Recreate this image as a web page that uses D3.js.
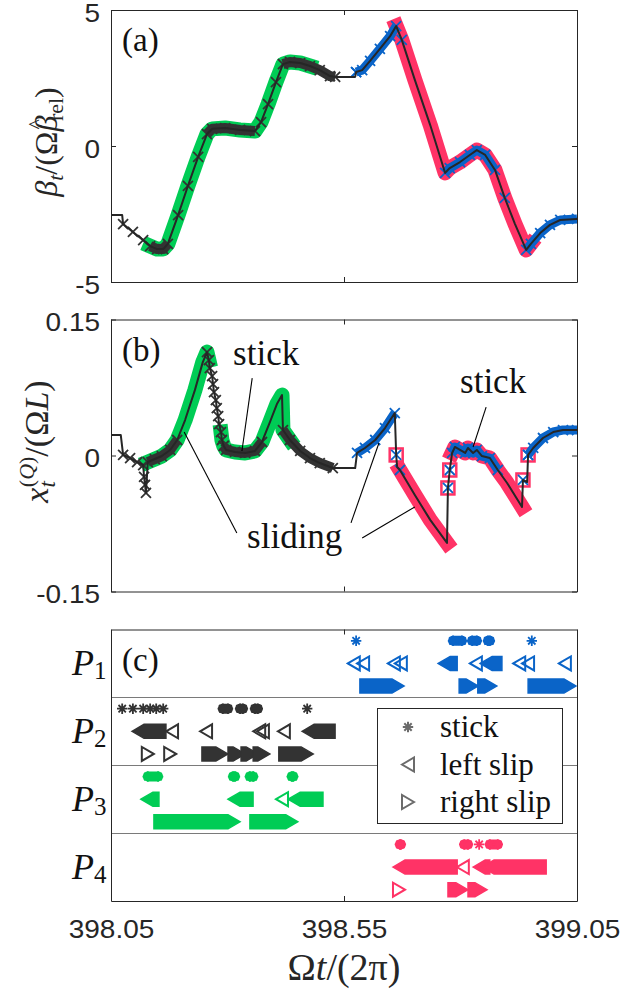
<!DOCTYPE html>
<html>
<head>
<meta charset="utf-8">
<script src="https://cdn.jsdelivr.net/npm/d3@7/dist/d3.min.js"></script>
<style>
  html, body { margin: 0; padding: 0; background: #fff; }
  svg { display: block; }
</style>
</head>
<body>
<svg id="fig" width="622" height="992"></svg>
<script>
// ---------- time axis ----------
const timeDomain = [398.05, 399.05];
const timeTicks = [398.05, 398.55, 399.05];

// ---------- panel (a): rotation rate beta_t ----------
const timeA = [398.050, 398.074, 398.076, 398.097, 398.119, 398.134, 398.149, 398.162, 398.172, 398.194,
  398.215, 398.237, 398.256, 398.267, 398.295, 398.327, 398.359, 398.372, 398.387, 398.404,
  398.419, 398.434, 398.456, 398.477, 398.498, 398.520, 398.531, 398.574, 398.576, 398.589,
  398.606, 398.627, 398.649, 398.662, 398.674, 398.702, 398.735, 398.767, 398.777, 398.799,
  398.820, 398.835, 398.853, 398.874, 398.895, 398.917, 398.941, 398.951, 398.971, 398.992,
  399.014, 399.050];
const betaA = [-2.54, -2.54, -2.87, -3.16, -3.46, -3.68, -3.79, -3.79, -3.60, -2.54,
  -1.47, -0.40, 0.44, 0.63, 0.66, 0.59, 0.55, 0.88, 1.54, 2.35,
  3.01, 3.09, 3.05, 2.94, 2.79, 2.57, 2.54, 2.54, 2.72, 2.79,
  3.13, 3.57, 4.04, 4.41, 3.90, 2.43, 0.77, -0.99, -0.81, -0.59,
  -0.33, -0.15, -0.33, -0.88, -1.91, -2.87, -3.82, -3.60, -3.20, -2.90,
  -2.72, -2.68];
const ticksA = [-5, 0, 5];

// contact states along the trace in (a)
const aP3Slide = [[398.134, 398.477]];
const aP2StickRuns = [[398.134, 398.172], [398.256, 398.359], [398.419, 398.531]];
const aP2StickPts = [398.076, 398.097, 398.119, 398.194, 398.215, 398.237, 398.372, 398.387, 398.404];
const aP4Slide = [[398.662, 398.951]];
const aP1StickRuns = [[398.576, 398.662], [398.767, 398.874], [398.941, 399.050]];
const aP1StickPts = [398.576, 398.674, 398.895];

// ---------- panel (b): displacement x_t^(Q) ----------
const timeB = [398.050, 398.071, 398.076, 398.091, 398.106, 398.119, 398.121, 398.123, 398.125, 398.129,
  398.144, 398.159, 398.177, 398.192, 398.209, 398.230, 398.247, 398.256, 398.260, 398.262,
  398.267, 398.269, 398.271, 398.275, 398.277, 398.280, 398.282, 398.286, 398.288, 398.292,
  398.297, 398.316, 398.338, 398.359, 398.374, 398.391, 398.406, 398.417, 398.419, 398.434,
  398.456, 398.477, 398.498, 398.526, 398.574, 398.578, 398.595, 398.617, 398.638, 398.659,
  398.662, 398.664, 398.670, 398.702, 398.735, 398.771, 398.773, 398.777, 398.782, 398.788,
  398.799, 398.810, 398.816, 398.827, 398.835, 398.846, 398.863, 398.880, 398.900, 398.932,
  398.934, 398.943, 398.945, 398.956, 398.977, 398.999, 399.020, 399.050];
const dispB = [0.0226, 0.0226, 0.0006, -0.0028, -0.0072, -0.0105, -0.0237, -0.0325, -0.0413, -0.0072,
  -0.0039, -0.0006, 0.0061, 0.0171, 0.0391, 0.0721, 0.1030, 0.1140, 0.1052, 0.0964,
  0.0876, 0.0788, 0.0699, 0.0611, 0.0523, 0.0435, 0.0347, 0.0259, 0.0171, 0.0105,
  0.0061, 0.0039, 0.0028, 0.0050, 0.0149, 0.0369, 0.0567, 0.0666, 0.0281, 0.0171,
  0.0050, -0.0028, -0.0083, -0.0138, -0.0138, 0.0028, 0.0083, 0.0171, 0.0303, 0.0468,
  0.0006, -0.0127, -0.0160, -0.0435, -0.0710, -0.0964, -0.0358, -0.0160, 0.0028, 0.0094,
  0.0061, 0.0028, 0.0083, 0.0028, 0.0061, -0.0006, -0.0028, -0.0160, -0.0303, -0.0567,
  -0.0270, -0.0292, 0.0006, 0.0083, 0.0193, 0.0259, 0.0281, 0.0281];
const ticksB = [-0.15, 0, 0.15];

// contact states along the trace in (b)
const bP3Slide = [[398.129, 398.260], [398.286, 398.434]];
const bP2StickRuns = [[398.129, 398.192], [398.292, 398.374], [398.419, 398.526]];
const bP2StickPts = [398.076, 398.091, 398.106, 398.119, 398.121, 398.123, 398.125,
  398.256, 398.260, 398.262, 398.267, 398.269, 398.271, 398.275, 398.277, 398.280, 398.282, 398.286, 398.288, 398.292];
const bP4Slide = [[398.670, 398.771], [398.782, 398.932]];
const bP4SlidePts = [398.662, 398.773, 398.777, 398.934, 398.945];
const bP1StickRuns = [[398.578, 398.659], [398.782, 398.880], [398.945, 399.050]];
const bP1StickPts = [398.662, 398.670, 398.773, 398.777, 398.934, 398.945];

// annotations in (b): [label, textT, textV, [[t0, v0, t1, v1], ...]]
const notesB = [
  ["stick", 398.312, 0.0997, [[398.353, 0.0854, 398.331, 0.0050]]],
  ["stick", 398.799, 0.0688, [[398.855, 0.0534, 398.827, 0.0094]]],
  ["sliding", 398.342, -0.1019, [[398.320, -0.0854, 398.207, 0.0259],
                                 [398.565, -0.0743, 398.625, 0.0138],
                                 [398.589, -0.0909, 398.702, -0.0567]]]
];

// ---------- panel (c): contact state of each particle ----------
const particles = ["P1", "P2", "P3", "P4"];
const particleColors = ["#0a64c8", "#333333", "#00cc55", "#ff3366"];
// single events and continuous runs [start, end]
const p1Stick = [398.576, 398.953];
const p1StickRuns = [[398.784, 398.803], [398.825, 398.835], [398.859, 398.863]];
const p1Left = [398.571, 398.591, 398.657, 398.672, 398.833, 398.926, 398.945, 399.024];
const p1LeftRuns = [[398.765, 398.780], [398.855, 398.876]];
const p1Right = [];
const p1RightRuns = [[398.597, 398.666], [398.810, 398.825], [398.850, 398.865], [398.958, 399.035]];

const p2Stick = [398.074, 398.097, 398.119, 398.134, 398.147, 398.162, 398.471];
const p2StickRuns = [[398.290, 398.301], [398.327, 398.333], [398.359, 398.365]];
const p2Left = [398.181, 398.254, 398.368, 398.376, 398.421];
const p2LeftRuns = [[398.108, 398.155], [398.473, 398.518]];
const p2Right = [398.129, 398.177];
const p2RightRuns = [[398.258, 398.288], [398.314, 398.325], [398.342, 398.353], [398.368, 398.378], [398.423, 398.471]];

const p3Stick = [];
const p3StickRuns = [[398.129, 398.151], [398.312, 398.316], [398.348, 398.355], [398.438, 398.441]];
const p3Left = [398.417];
const p3LeftRuns = [[398.127, 398.140], [398.314, 398.342], [398.443, 398.492]];
const p3Right = [];
const p3RightRuns = [[398.155, 398.314], [398.361, 398.438]];

const p4Stick = [398.840];
const p4StickRuns = [[398.670, 398.672], [398.808, 398.816], [398.863, 398.880]];
const p4Left = [398.805];
const p4LeftRuns = [[398.668, 398.780], [398.840, 398.850], [398.859, 398.971]];
const p4Right = [398.668];
const p4RightRuns = [[398.786, 398.803], [398.829, 398.844]];

const legendLabels = ["stick", "left slip", "right slip"];

// ---------- drawing ----------
const INK = "#262626";
const SERIF = "'Liberation Serif', 'DejaVu Serif', serif";
const SANS = "'Liberation Sans', Arial, sans-serif";
const [cBlue, cDark, cGreen, cPink] = particleColors;
const hyphenNum = f => v => f(v).replace("\u2212", "-");

const svg = d3.select("#fig");
const x = d3.scaleLinear().domain(timeDomain).range([111, 577]);
const yA = d3.scaleLinear().domain([-5, 5]).range([282, 10]);
const yB = d3.scaleLinear().domain([-0.15, 0.15]).range([591.5, 319.5]);
// 4 particles x 3 states = 12 slots, slot 0 at the top
const yC = d3.scaleLinear().domain([12, 0]).range([901, 629.5]);

const defs = svg.append("defs");
function clipFor(id, y) {
  defs.append("clipPath").attr("id", id).append("rect")
    .attr("x", x.range()[0]).attr("y", y.range()[1])
    .attr("width", x.range()[1] - x.range()[0]).attr("height", y.range()[0] - y.range()[1]);
}
clipFor("clipA", yA); clipFor("clipB", yB); clipFor("clipC", yC);

const toPts = (ts, vs) => ts.map((t, i) => ({ t, v: vs[i] }));
const inRanges = (pts, ranges) => ranges.map(([a, b]) => pts.filter(p => p.t >= a - 1e-6 && p.t <= b + 1e-6));
const atTimes = (pts, times) => times.map(t => pts.find(p => Math.abs(p.t - t) < 1e-6)).filter(Boolean);

function crossPath(cx, cy, s) {
  return `M${cx - s},${cy - s}L${cx + s},${cy + s}M${cx - s},${cy + s}L${cx + s},${cy - s}`;
}
function asteriskPath(cx, cy, r) {
  const d = r * Math.SQRT1_2;
  return `M${cx - r},${cy}L${cx + r},${cy}M${cx},${cy - r}L${cx},${cy + r}` +
         `M${cx - d},${cy - d}L${cx + d},${cy + d}M${cx - d},${cy + d}L${cx + d},${cy - d}`;
}

function drawTrace(y, pts, clipId, layers) {
  const g = svg.append("g").attr("clip-path", `url(#${clipId})`);
  const line = d3.line().x(p => x(p.t)).y(p => y(p.v));
  layers.forEach(L => {
    if (L.type === "slideBand") {
      g.append("g").selectAll("path").data(inRanges(pts, L.ranges)).join("path")
        .attr("d", line).attr("fill", "none").attr("stroke", L.color)
        .attr("stroke-width", 15).attr("stroke-linejoin", "round").attr("stroke-linecap", "square");
    } else if (L.type === "stickBand") {
      const runs = inRanges(pts, L.ranges);
      g.append("g").selectAll("path").data(runs).join("path")
        .attr("d", line).attr("fill", "none").attr("stroke", L.color)
        .attr("stroke-width", L.width || 9).attr("stroke-linejoin", "round").attr("stroke-linecap", "butt");
      g.append("g").selectAll("path").data(runs.flat()).join("path")
        .attr("d", p => crossPath(x(p.t), y(p.v), 5)).attr("stroke", L.color).attr("stroke-width", 1.8).attr("fill", "none");
    } else if (L.type === "cross") {
      g.append("g").selectAll("path").data(atTimes(pts, L.times)).join("path")
        .attr("d", p => crossPath(x(p.t), y(p.v), 5)).attr("stroke", L.color).attr("stroke-width", 1.8).attr("fill", "none");
    } else if (L.type === "square") {
      g.append("g").selectAll("rect").data(atTimes(pts, L.times)).join("rect")
        .attr("x", p => x(p.t) - 6.5).attr("y", p => y(p.v) - 6.5).attr("width", 13).attr("height", 13)
        .attr("fill", "none").attr("stroke", L.color).attr("stroke-width", 2.5);
    }
  });
  g.append("path").datum(pts).attr("d", line).attr("fill", "none")
    .attr("stroke", INK).attr("stroke-width", 2).attr("stroke-linejoin", "round");
}

function drawFrame(y, yTicks, yFmt, xLabels) {
  const g = svg.append("g").attr("font-family", SANS).attr("font-size", 25).attr("color", INK);
  const bottom = g.append("g").attr("transform", `translate(0,${y.range()[0]})`)
    .call(d3.axisBottom(x).tickValues(timeTicks).tickSizeInner(-5).tickSizeOuter(0).tickPadding(19)
      .tickFormat(xLabels ? d3.format(".2f") : () => ""));
  g.append("g").attr("transform", `translate(0,${y.range()[1]})`)
    .call(d3.axisTop(x).tickValues(timeTicks).tickSizeInner(-5).tickSizeOuter(0).tickFormat(() => ""));
  const left = g.append("g").attr("transform", `translate(${x.range()[0]},0)`)
    .call(d3.axisLeft(y).tickValues(yTicks).tickSizeInner(-5).tickSizeOuter(0).tickPadding(9.8).tickFormat(yFmt));
  g.append("g").attr("transform", `translate(${x.range()[1]},0)`)
    .call(d3.axisRight(y).tickValues(yTicks).tickSizeInner(-5).tickSizeOuter(0).tickFormat(() => ""));
  g.selectAll(".domain, .tick line").attr("stroke", INK).attr("stroke-width", 1);
  g.selectAll("text").attr("fill", INK).attr("font-family", SANS).attr("font-size", 25);
  left.selectAll("text").attr("dy", "0.45em").attr("transform", "scale(1.12,1)");
  bottom.selectAll("text").attr("transform", "scale(1.12,1)").attr("text-anchor", "middle");
  return g;
}

// panel (a)
const ptsA = toPts(timeA, betaA);
drawTrace(yA, ptsA, "clipA", [
  { type: "slideBand", color: cGreen, ranges: aP3Slide },
  { type: "stickBand", color: cDark, ranges: aP2StickRuns, width: 10 },
  { type: "cross", color: cDark, times: aP2StickPts },
  { type: "slideBand", color: cPink, ranges: aP4Slide },
  { type: "stickBand", color: cBlue, ranges: aP1StickRuns, width: 9 },
  { type: "cross", color: cBlue, times: aP1StickPts }
]);
drawFrame(yA, ticksA, hyphenNum(d3.format("d")), false);

// panel (b)
const ptsB = toPts(timeB, dispB);
drawTrace(yB, ptsB, "clipB", [
  { type: "slideBand", color: cGreen, ranges: bP3Slide },
  { type: "stickBand", color: cDark, ranges: bP2StickRuns, width: 10 },
  { type: "cross", color: cDark, times: bP2StickPts },
  { type: "slideBand", color: cPink, ranges: bP4Slide },
  { type: "square", color: cPink, times: bP4SlidePts },
  { type: "stickBand", color: cBlue, ranges: bP1StickRuns, width: 9 },
  { type: "cross", color: cBlue, times: bP1StickPts }
]);
drawFrame(yB, ticksB, v => (v === 0 ? "0" : hyphenNum(d3.format(".2f"))(v)), false);

// annotations (b)
const noteG = svg.append("g");
notesB.forEach(([label, tt, tv, leaders]) => {
  leaders.forEach(([t0, v0, t1, v1]) => {
    noteG.append("line").attr("x1", x(t0)).attr("y1", yB(v0)).attr("x2", x(t1)).attr("y2", yB(v1))
      .attr("stroke", "#000").attr("stroke-width", 1.1);
  });
  noteG.append("text").attr("x", x(tt)).attr("y", yB(tv))
    .style("font-family", SERIF).attr("font-size", 35).attr("fill", "#111").text(label);
});

// panel (c)
const rowSets = [
  [p1Stick, p1StickRuns, p1Left, p1LeftRuns, p1Right, p1RightRuns],
  [p2Stick, p2StickRuns, p2Left, p2LeftRuns, p2Right, p2RightRuns],
  [p3Stick, p3StickRuns, p3Left, p3LeftRuns, p3Right, p3RightRuns],
  [p4Stick, p4StickRuns, p4Left, p4LeftRuns, p4Right, p4RightRuns]
];
const TW = 12, TH = 14;
const triLeft = (cx, cy) => `M${cx - TW / 2},${cy}L${cx + TW / 2},${cy - TH / 2}L${cx + TW / 2},${cy + TH / 2}Z`;
const triRight = (cx, cy) => `M${cx + TW / 2},${cy}L${cx - TW / 2},${cy - TH / 2}L${cx - TW / 2},${cy + TH / 2}Z`;
const runLeft = (x0, x1, cy) => `M${x0 - TW / 2},${cy}L${x0 + TW / 2},${cy - TH / 2}L${x1 + TW / 2},${cy - TH / 2}L${x1 + TW / 2},${cy + TH / 2}L${x0 + TW / 2},${cy + TH / 2}Z`;
const runRight = (x0, x1, cy) => `M${x0 - TW / 2},${cy - TH / 2}L${x1 - TW / 2},${cy - TH / 2}L${x1 + TW / 2},${cy}L${x1 - TW / 2},${cy + TH / 2}L${x0 - TW / 2},${cy + TH / 2}Z`;

// row separators
[3, 6, 9].forEach(k => {
  svg.append("line").attr("x1", x.range()[0]).attr("x2", x.range()[1])
    .attr("y1", Math.round(yC(k)) + 0.5).attr("y2", Math.round(yC(k)) + 0.5)
    .attr("stroke", "#7a7a7a").attr("stroke-width", 1.2);
});
const gC = svg.append("g").attr("clip-path", "url(#clipC)");
rowSets.forEach(([st, stRuns, le, leRuns, ri, riRuns], r) => {
  const col = particleColors[r];
  const cyS = yC(r * 3 + 0.5), cyL = yC(r * 3 + 1.5), cyR = yC(r * 3 + 2.5);
  const g = gC.append("g");
  // stick
  g.selectAll(".sr").data(stRuns).join("line").attr("class", "sr")
    .attr("x1", d => x(d[0])).attr("x2", d => x(d[1])).attr("y1", cyS).attr("y2", cyS)
    .attr("stroke", col).attr("stroke-width", 10).attr("stroke-linecap", "round");
  g.selectAll(".sp").data(st.concat(stRuns.flat())).join("path").attr("class", "sp")
    .attr("d", t => asteriskPath(x(t), cyS, 5.2)).attr("stroke", col).attr("stroke-width", 1.8).attr("fill", "none");
  // left slip
  g.selectAll(".lr").data(leRuns).join("path").attr("class", "lr")
    .attr("d", d => runLeft(x(d[0]), x(d[1]), cyL)).attr("fill", col).attr("stroke", col).attr("stroke-width", 1.5);
  g.selectAll(".lp").data(le).join("path").attr("class", "lp")
    .attr("d", t => triLeft(x(t), cyL)).attr("fill", "none").attr("stroke", col).attr("stroke-width", 2);
  // right slip
  g.selectAll(".rr").data(riRuns).join("path").attr("class", "rr")
    .attr("d", d => runRight(x(d[0]), x(d[1]), cyR)).attr("fill", col).attr("stroke", col).attr("stroke-width", 1.5);
  g.selectAll(".rp").data(ri).join("path").attr("class", "rp")
    .attr("d", t => triRight(x(t), cyR)).attr("fill", "none").attr("stroke", col).attr("stroke-width", 2);
});
drawFrame(yC, [], () => "", true);

// row labels P1..P4
particles.forEach((p, r) => {
  const t = svg.append("text").attr("x", 72).attr("y", yC(r * 3 + 1.5) + 12)
    .style("font-family", SERIF).attr("font-size", 36).attr("fill", "#111");
  t.append("tspan").attr("font-style", "italic").text(p[0]);
  t.append("tspan").attr("font-size", 25).attr("dy", 4).text(p.slice(1));
});

// legend
const lg = svg.append("g").attr("transform", "translate(377,708)");
lg.append("rect").attr("x", 0.5).attr("y", 0.5).attr("width", 185).attr("height", 115)
  .attr("fill", "#fff").attr("stroke", INK).attr("stroke-width", 1);
const legendMarks = [
  (cx, cy) => asteriskPath(cx, cy, 5.2),
  (cx, cy) => triLeft(cx, cy),
  (cx, cy) => triRight(cx, cy)
];
legendLabels.forEach((lab, i) => {
  const cy = 19 + i * 37.5;
  lg.append("path").attr("d", legendMarks[i](31, cy)).attr("fill", "none")
    .attr("stroke", "#6b6b6b").attr("stroke-width", 2);
  lg.append("text").attr("x", 63).attr("y", cy + 10).style("font-family", SERIF)
    .attr("font-size", 31).attr("fill", "#111").text(lab);
});

// panel tags
[["(a)", yA], ["(b)", yB], ["(c)", yC]].forEach(([lab, y]) => {
  svg.append("text").attr("x", 122).attr("y", y.range()[1] + 41)
    .style("font-family", SERIF).attr("font-size", 33).attr("fill", "#111").text(lab);
});

// y-axis titles
const labA = svg.append("text").attr("transform", `translate(57,${(yA.range()[0] + yA.range()[1]) / 2 - 4}) rotate(-90)`)
  .attr("text-anchor", "middle").style("font-family", SERIF).attr("font-size", 32).attr("fill", INK);
labA.append("tspan").attr("font-style", "italic").text("β");
labA.append("tspan").attr("font-style", "italic").attr("font-size", 22).attr("dy", 6).text("t");
labA.append("tspan").attr("dy", -6).text("/(Ω");
labA.append("tspan").attr("font-style", "italic").text("β");
labA.append("tspan").attr("font-size", 22).attr("dx", -14).attr("dy", -14).text("^");
labA.append("tspan").attr("font-size", 22).attr("dx", -2).attr("dy", 20).text("rel");
labA.append("tspan").attr("dy", -6).text(")");

const labB = svg.append("text").attr("transform", `translate(48,${(yB.range()[0] + yB.range()[1]) / 2 - 14}) rotate(-90)`)
  .attr("text-anchor", "middle").style("font-family", SERIF).attr("font-size", 34).attr("fill", INK);
labB.append("tspan").attr("font-style", "italic").text("x");
labB.append("tspan").attr("font-style", "italic").attr("font-size", 23).attr("dy", 7).text("t");
labB.append("tspan").attr("font-size", 22).attr("dx", -6).attr("dy", -21).text("(");
labB.append("tspan").attr("font-size", 22).attr("font-style", "italic").text("Q");
labB.append("tspan").attr("font-size", 22).text(")");
labB.append("tspan").attr("dy", 14).text("/(Ω");
labB.append("tspan").attr("font-style", "italic").text("L");
labB.append("tspan").text(")");

// x-axis title
const labX = svg.append("text").attr("x", (x.range()[0] + x.range()[1]) / 2).attr("y", 980)
  .attr("text-anchor", "middle").style("font-family", SERIF).attr("font-size", 38).attr("fill", INK);
labX.append("tspan").text("Ω");
labX.append("tspan").attr("font-style", "italic").text("t");
labX.append("tspan").text("/(2π)");
</script>
</body>
</html>
